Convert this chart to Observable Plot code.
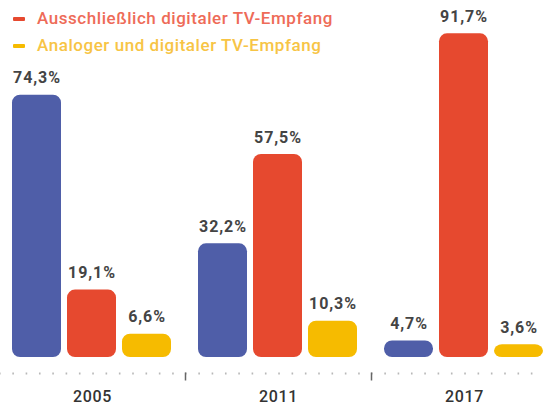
<!DOCTYPE html>
<html>
<head>
<meta charset="utf-8">
<script src="https://cdn.jsdelivr.net/npm/d3@7"></script>
<script src="https://cdn.jsdelivr.net/npm/@observablehq/plot@0.6"></script>
<style>
  html, body { margin: 0; padding: 0; background: #fff; overflow: hidden; }
  #wrap { position: relative; width: 543px; height: 405px; overflow: hidden; font-family: Roboto, "Noto Sans", sans-serif; }
  #legend { position: absolute; left: 0; top: -22px; z-index: 2; }
  .item { display: flex; align-items: center; height: 27px; line-height: 27px; font-size: 17px; font-weight: 500; letter-spacing: 0.55px; white-space: nowrap; }
  .sw { display: inline-block; width: 12px; height: 4px; margin-left: 13px; margin-right: 12px; border-radius: 1px; }
  #chart { position: absolute; left: 0; top: 0; }
  .tv-chart text { letter-spacing: 0.6px; }
  .tv-chart g[aria-label="text"] text { letter-spacing: 0.9px; }
</style>
</head>
<body>
<div id="wrap">
  <div id="chart"></div>
  <div id="legend"></div>
</div>
<script>
const years = ["2005", "2011", "2017"];
const series = [
  "Ausschließlich analoger TV-Empfang",
  "Ausschließlich digitaler TV-Empfang",
  "Analoger und digitaler TV-Empfang"
];
const analogOnly = [74.3, 32.2, 4.7];
const digitalOnly = [19.1, 57.5, 91.7];
const bothTV = [6.6, 10.3, 3.6];
const colors = ["#4f5ea8", "#e6492f", "#f6bb00"];
const legendTextColors = ["#7c86c4", "#ee6b58", "#f7c445"];

const valuesBySeries = [analogOnly, digitalOnly, bothTV];
const data = [];
years.forEach((yr, i) => {
  series.forEach((s, j) => {
    data.push({year: yr, series: s, value: valuesBySeries[j][i]});
  });
});
const fmt = v => v.toFixed(1).replace(".", ",") + "%";

// legend
const legend = document.getElementById("legend");
series.forEach((s, j) => {
  const row = document.createElement("div");
  row.className = "item";
  const sw = document.createElement("span");
  sw.className = "sw";
  sw.style.background = colors[j];
  const tx = document.createElement("span");
  tx.textContent = s;
  tx.style.color = legendTextColors[j];
  row.appendChild(sw);
  row.appendChild(tx);
  legend.appendChild(row);
});

const vline = {
  draw(context, size) {
    const r = Math.sqrt(size / Math.PI);
    context.moveTo(0, -r);
    context.lineTo(0, r);
  }
};

const chart = Plot.plot({
  className: "tv-chart",
  width: 543,
  height: 405,
  marginTop: 4,
  marginBottom: 48,
  marginLeft: 0,
  marginRight: 0,
  style: {fontFamily: "Roboto, 'Noto Sans', sans-serif", fontSize: "16px", fontWeight: 500, color: "#333", background: "transparent", overflow: "visible"},
  fx: {domain: years, range: [-1.6, 558], paddingInner: 0, paddingOuter: 0, label: null, tickSize: 0, tickPadding: 33, axis: "bottom"},
  x: {domain: series, paddingInner: 0.107, paddingOuter: 0.22, axis: null},
  y: {domain: [0, 100], axis: null},
  color: {domain: series, range: colors},
  marks: [
    Plot.ruleY([0], {dy: 16, stroke: "#b8b8b8", strokeWidth: 2, strokeDasharray: "1.6 11.72"}),
    Plot.dot(years.slice(1), {fx: d => d, frameAnchor: "bottom-left", symbol: vline, r: 4, stroke: "#666", strokeWidth: 1.5, dy: 19}),
    Plot.barY(data, {fx: "year", x: "series", y: "value", fill: "series", rx: 8}),
    Plot.text(data, {fx: "year", x: "series", y: "value", text: d => fmt(d.value), dy: -17, fontSize: 16, fontWeight: 700, fill: "#444"})
  ]
});
document.getElementById("chart").appendChild(chart);
</script>
</body>
</html>
